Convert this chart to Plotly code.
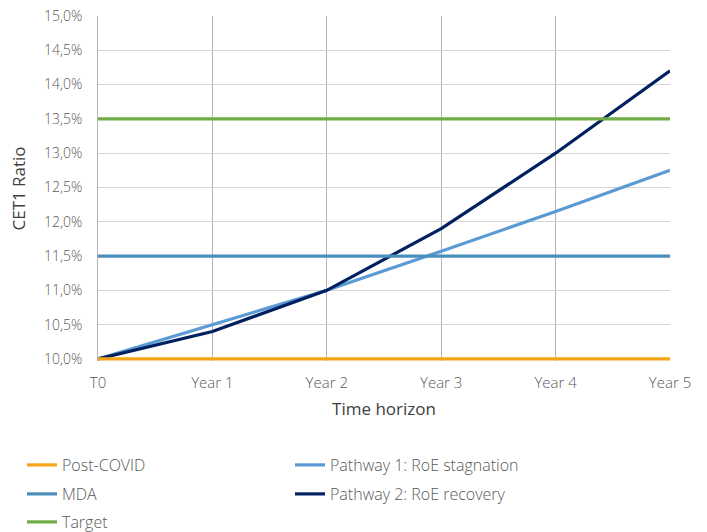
import plotly.graph_objects as go

# Time axis and capital-ratio projections (CET1, %)
periods = ["T0", "Year 1", "Year 2", "Year 3", "Year 4", "Year 5"]
post_covid = [10.0, 10.0, 10.0, 10.0, 10.0, 10.0]
mda = [11.5, 11.5, 11.5, 11.5, 11.5, 11.5]
target = [13.5, 13.5, 13.5, 13.5, 13.5, 13.5]
pathway_1 = [10.0, 10.5, 11.0, 11.57, 12.15, 12.75]
pathway_2 = [10.0, 10.4, 11.0, 11.9, 13.0, 14.2]
y_ticks = [10.0, 10.5, 11.0, 11.5, 12.0, 12.5, 13.0, 13.5, 14.0, 14.5, 15.0]
y_tick_text = [f"{v:.1f}%".replace(".", ",") for v in y_ticks]

FONT = "Open Sans"
W, H = 707, 532
x_idx = list(range(len(periods)))

series = [
    # name, values, colour, legend, rank
    ("Pathway 1: RoE stagnation", pathway_1, "#5B9BD5", "legend", 2),
    ("Pathway 2: RoE recovery", pathway_2, "#002060", "legend2", 4),
    ("Post-COVID", post_covid, "#F5A418", "legend", 1),
    ("MDA", mda, "#4A8EBB", "legend2", 3),
    ("Target", target, "#70AD47", "legend3", 5),
]

fig = go.Figure()
for name, vals, col, leg, rank in series:
    fig.add_trace(go.Scatter(
        x=x_idx, y=vals, name=name, mode="lines",
        line=dict(color=col, width=3.2),
        legend=leg, legendrank=rank,
    ))

legend_common = dict(
    orientation="h", entrywidth=223, entrywidthmode="pixels",
    font=dict(family=FONT, size=16, color="#595959", weight=300),
    bgcolor="rgba(0,0,0,0)",
    xref="container", yref="container",
    x=22 / W, xanchor="left", yanchor="middle",
)

fig.update_layout(
    width=W, height=H,
    # a little headroom below 10% keeps the full width of the baseline visible
    margin=dict(l=98, r=37, t=16, b=171, autoexpand=False),
    plot_bgcolor="white", paper_bgcolor="white",
    font=dict(family=FONT, color="#595959", weight=300),
    legend=dict(**legend_common, y=1 - 465 / H),
    legend2=dict(**legend_common, y=1 - 494 / H),
    legend3=dict(**legend_common, y=1 - 522 / H),
    xaxis=dict(
        range=[0, 5], tickvals=x_idx, ticktext=periods,
        showgrid=True, gridcolor="#B4B4B4", gridwidth=1,
        showline=False, zeroline=False, ticks="", ticklabelstandoff=11,
        tickfont=dict(family=FONT, size=15, color="#595959", weight=300),
        title=dict(text="Time horizon", font=dict(family=FONT, size=17, color="#404040", weight=400), standoff=12),
    ),
    yaxis=dict(
        range=[9.97, 15.0], tickvals=y_ticks, ticktext=y_tick_text,
        showgrid=True, gridcolor="#D6D6D6", gridwidth=1,
        showline=True, linecolor="#B4B4B4", linewidth=1,
        zeroline=False, ticks="", ticklabelstandoff=12,
        tickfont=dict(family=FONT, size=14, color="#595959", weight=300),
        title=dict(text="CET1 Ratio", font=dict(family=FONT, size=17, color="#404040", weight=400), standoff=13),
    ),
)

fig.write_html("out.html")
